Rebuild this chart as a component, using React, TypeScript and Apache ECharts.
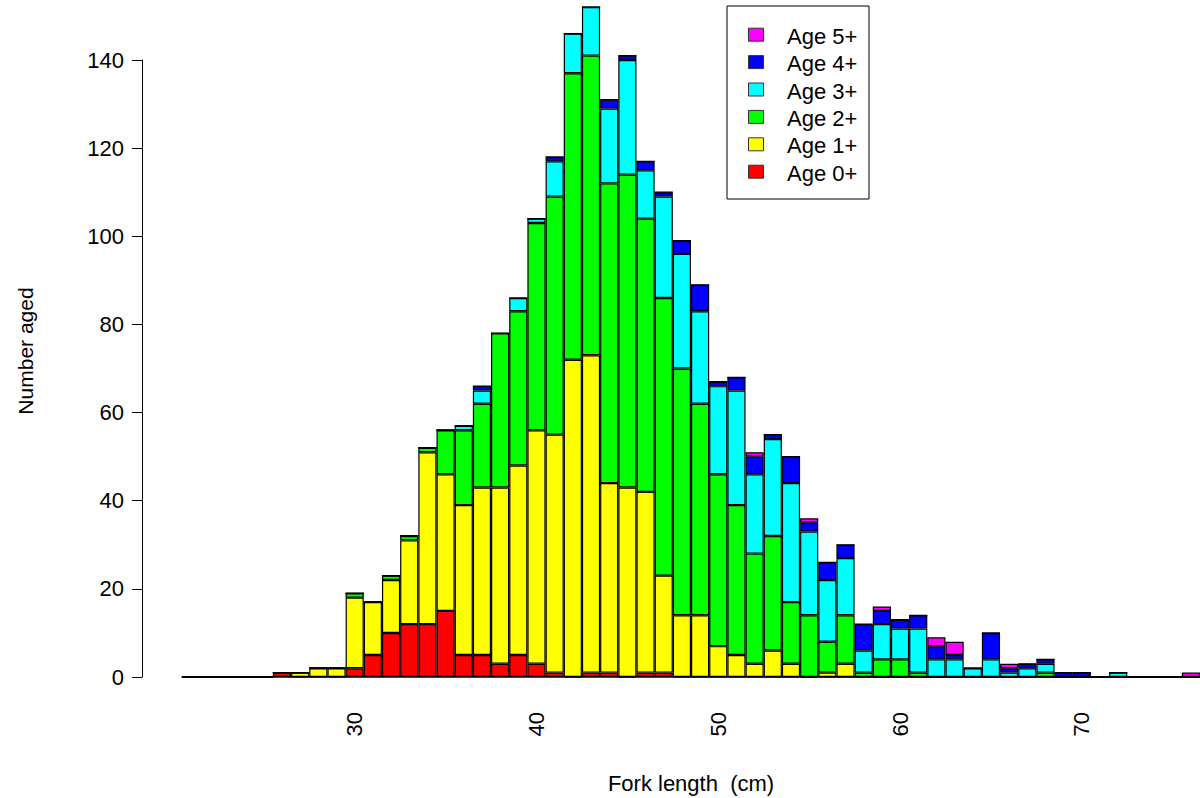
import React, { useEffect, useRef } from "react";
import * as echarts from "echarts";

const lengths = [21, 22, 23, 24, 25, 26, 27, 28, 29, 30, 31, 32, 33, 34, 35, 36, 37, 38, 39, 40, 41, 42, 43, 44, 45, 46, 47, 48, 49, 50, 51, 52, 53, 54, 55, 56, 57, 58, 59, 60, 61, 62, 63, 64, 65, 66, 67, 68, 69, 70, 71, 72, 73, 74, 75, 76];

const age0 = [0, 0, 0, 0, 0, 1, 0, 0, 0, 2, 5, 10, 12, 12, 15, 5, 5, 3, 5, 3, 1, 0, 1, 1, 0, 1, 1, 0, 0, 0, 0, 0, 0, 0, 0, 0, 0, 0, 0, 0, 0, 0, 0, 0, 0, 0, 0, 0, 0, 0, 0, 0, 0, 0, 0, 0];
const age1 = [0, 0, 0, 0, 0, 0, 1, 2, 2, 16, 12, 12, 19, 39, 31, 34, 38, 40, 43, 53, 54, 72, 72, 43, 43, 41, 22, 14, 14, 7, 5, 3, 6, 3, 0, 1, 3, 0, 0, 0, 0, 0, 0, 0, 0, 0, 0, 0, 0, 0, 0, 0, 0, 0, 0, 0];
const age2 = [0, 0, 0, 0, 0, 0, 0, 0, 0, 1, 0, 1, 1, 1, 10, 17, 19, 35, 35, 47, 54, 65, 68, 68, 71, 62, 63, 56, 48, 39, 34, 25, 26, 14, 14, 7, 11, 1, 4, 4, 1, 0, 0, 0, 0, 0, 0, 1, 0, 0, 0, 0, 0, 0, 0, 0];
const age3 = [0, 0, 0, 0, 0, 0, 0, 0, 0, 0, 0, 0, 0, 0, 0, 1, 3, 0, 3, 1, 8, 9, 11, 17, 26, 11, 23, 26, 21, 20, 26, 18, 22, 27, 19, 14, 13, 5, 8, 7, 10, 4, 4, 2, 4, 1, 2, 2, 0, 0, 0, 1, 0, 0, 0, 0];
const age4 = [0, 0, 0, 0, 0, 0, 0, 0, 0, 0, 0, 0, 0, 0, 0, 0, 1, 0, 0, 0, 1, 0, 0, 2, 1, 2, 1, 3, 6, 1, 3, 4, 1, 6, 2, 4, 3, 6, 3, 2, 3, 3, 1, 0, 6, 1, 1, 1, 1, 1, 0, 0, 0, 0, 0, 0];
const age5 = [0, 0, 0, 0, 0, 0, 0, 0, 0, 0, 0, 0, 0, 0, 0, 0, 0, 0, 0, 0, 0, 0, 0, 0, 0, 0, 0, 0, 0, 0, 0, 1, 0, 0, 1, 0, 0, 0, 1, 0, 0, 2, 3, 0, 0, 1, 0, 0, 0, 0, 0, 0, 0, 0, 0, 1];

const seriesNames = ["Age 0+", "Age 1+", "Age 2+", "Age 3+", "Age 4+", "Age 5+"];
const seriesColors = ["#FF0000", "#FFFF00", "#00FF00", "#00FFFF", "#0000FF", "#FF00FF"];
const seriesData = [age0, age1, age2, age3, age4, age5];
const yTicks = { min: 0, max: 140, interval: 20 };

const FONT = "'Liberation Sans', Arial, Helvetica, sans-serif";

export default function App() {
  const ref = useRef<HTMLDivElement>(null);

  useEffect(() => {
    if (!ref.current) return;
    const chart = echarts.init(ref.current, null, { renderer: "svg" });

    const legendTop = 6;
    const legendLeft = 727;
    const rowStart = 34.7;
    const rowGap = 27.4;
    const legendChildren: any[] = [
      {
        type: "rect",
        shape: { x: legendLeft, y: legendTop, width: 142, height: 193 },
        style: { fill: "#fff", stroke: "#000", lineWidth: 1 },
      },
    ];
    // legend order: top = Age 5+
    for (let i = 0; i < seriesNames.length; i++) {
      const si = seriesNames.length - 1 - i;
      const cy = rowStart + rowGap * i;
      legendChildren.push({
        type: "rect",
        shape: { x: 748.5, y: cy - 6.5, width: 15, height: 13 },
        style: { fill: seriesColors[si], stroke: "#333", lineWidth: 1 },
      });
      legendChildren.push({
        type: "text",
        x: 787,
        y: cy + 1.5,
        style: {
          text: seriesNames[si],
          font: `22px ${FONT}`,
          fill: "#000",
          textVerticalAlign: "middle",
          textAlign: "left",
        },
      });
    }

    chart.setOption({
      animation: false,
      backgroundColor: "#fff",
      grid: { left: 182, top: 60, width: 1019, height: 617, containLabel: false },
      xAxis: {
        type: "category",
        data: lengths.map(String),
        boundaryGap: true,
        axisLine: { show: true, onZero: false, lineStyle: { color: "#000", width: 1.5 } },
        axisTick: { show: false },
        splitLine: { show: false },
        axisLabel: {
          interval: (_idx: number, val: string) => Number(val) % 10 === 0,
          rotate: 90,
          margin: 35,
          padding: [6, 0, 0, 0],
          color: "#000",
          fontSize: 22,
          fontFamily: FONT,
        },
      },
      yAxis: {
        type: "value",
        min: yTicks.min,
        max: yTicks.max,
        interval: yTicks.interval,
        offset: 40,
        axisLine: { show: true, lineStyle: { color: "#000", width: 1 } },
        axisTick: { show: true, length: 10, lineStyle: { color: "#000", width: 1 } },
        splitLine: { show: false },
        axisLabel: { color: "#000", fontSize: 22, fontFamily: FONT, margin: 18 },
      },
      series: seriesNames.map((name, i) => ({
        name,
        type: "bar",
        stack: "total",
        clip: false,
        barCategoryGap: "0%",
        data: seriesData[i],
        itemStyle: { color: seriesColors[i], borderColor: "#000", borderWidth: 1.2 },
        emphasis: { disabled: true },
      })),
      graphic: [
        {
          type: "text",
          x: 25,
          y: 351,
          rotation: Math.PI / 2,
          style: {
            text: "Number aged",
            font: `21px ${FONT}`,
            fill: "#000",
            textAlign: "center",
            textVerticalAlign: "middle",
          },
        },
        {
          type: "text",
          x: 691,
          y: 783,
          style: {
            text: "Fork length  (cm)",
            font: `22px ${FONT}`,
            fill: "#000",
            textAlign: "center",
            textVerticalAlign: "middle",
          },
        },
        { type: "group", children: legendChildren },
      ],
    });

    return () => chart.dispose();
  }, []);

  return (
    <div
      ref={ref}
      style={{ position: "absolute", left: 0, top: 0, width: 1200, height: 798, background: "#fff" }}
    />
  );
}
